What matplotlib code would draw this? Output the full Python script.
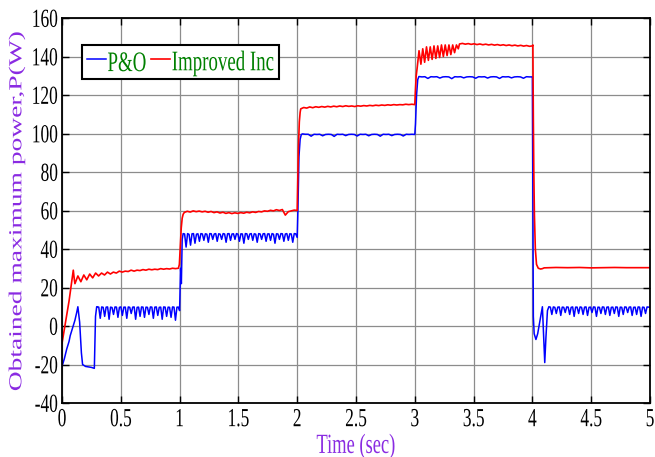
import numpy as np
import matplotlib
matplotlib.use('Agg')
import matplotlib.pyplot as plt
from matplotlib.patheffects import AbstractPathEffect
from matplotlib.transforms import Affine2D
from matplotlib.path import Path

# P&O (blue) - transients as (t, P) pairs, plateaus as value runs between start/end times
po_t0 = [0.0, 0.02, 0.04, 0.06, 0.07, 0.09, 0.11, 0.125, 0.135, 0.15, 0.165, 0.175, 0.2, 0.25, 0.275, 0.285, 0.295]
po_p0 = [-21, -17, -12, -8, -5, -1, 3, 7, 10, 2, -14, -20, -21, -21.5, -22, 5, 10]
po_p1 = [10, 9.8, 4, 9.9, 9.7, 5, 9.8, 9.9, 3.5, 9.8, 9.6, 6, 9.9, 9.8, 4.5, 9.7, 9.9, 5.5,
         9.8, 9.8, 4, 9.9, 9.7, 6.5, 9.8, 9.9, 3.5, 9.7, 9.8, 5, 9.9, 9.8, 4.5, 9.8, 9.7, 6,
         9.9, 9.8, 4, 9.8, 9.9, 5.5, 9.7, 9.8, 3.5, 9.9, 9.8, 5, 9.8, 9.7, 4.5, 9.9, 9.8, 3, 9.8, 9.8]
po_t1 = [1.0, 1.008, 1.015, 1.022]
po_j1 = [8, 30, 22, 45]
po_p2 = [48, 47.8, 41, 48, 47.6, 42, 47.9, 48, 43, 47.7, 47.9, 44, 48, 47.8, 44.5, 47.9, 47.7, 43.5,
         48, 47.9, 45, 47.8, 48, 44, 47.9, 47.7, 45, 48, 47.8, 43.5, 47.9, 48, 44.5, 47.8, 47.9, 45,
         48, 47.7, 44, 47.9, 47.8, 43, 48, 47.9, 45, 47.8, 48, 44.5, 47.9, 47.7, 43.5, 48, 47.8, 45,
         47.9, 48, 44, 47.8, 47.9, 44.5, 48, 47.7, 43, 47.9, 47.8, 45, 48, 47.9, 44, 47.8, 48, 44.5,
         47.9, 47.8, 43.5, 48, 47.9, 46]
po_t2 = [2.006, 2.015, 2.025, 2.035]
po_j2 = [60, 88, 97, 99.5]
po_p3 = [99.8, 99.6, 99.6, 98.6, 99.6, 99.5, 99.6, 98.8, 99.5, 99.6, 99.5, 98.5, 99.6, 99.5, 99.6,
         98.9, 99.5, 99.6, 99.5, 98.7, 99.6, 99.5, 99.6, 98.8, 99.5, 99.6, 99.5, 98.6, 99.6, 99.5,
         99.6, 98.9, 99.5, 99.6, 99.5, 98.7, 99.6, 99.5, 99.6, 99.5]
po_t3 = [3.006, 3.015, 3.025]
po_j3 = [105, 120, 128]
po_p4 = [129.6, 129.4, 129.5, 128.6, 129.5, 129.4, 129.5, 128.8, 129.4, 129.5, 129.4, 128.5, 129.5,
         129.4, 129.5, 128.9, 129.4, 129.5, 129.4, 128.7, 129.5, 129.4, 129.5, 128.8, 129.4, 129.5,
         129.4, 128.6, 129.5, 129.4, 129.5, 128.9, 129.4, 129.5, 129.4, 128.7, 129.5, 129.4, 129.4]
po_t4 = [4.004, 4.008, 4.015, 4.03, 4.045, 4.065, 4.085, 4.095, 4.105, 4.115, 4.128]
po_j4 = [70, 5, -4, -7, -4, 3, 10, -5, -19, -6, 8]
po_p5 = [10, 9.8, 6, 9.9, 9.7, 6.5, 9.8, 9.9, 5.5, 9.8, 9.7, 7, 9.9, 9.8, 6, 9.7, 9.9, 5,
         9.8, 9.8, 6.5, 9.9, 9.7, 6, 9.8, 9.9, 5.5, 9.7, 9.8, 7, 9.9, 9.8, 5, 9.8, 9.7, 6.5,
         9.9, 9.8, 6, 9.8, 9.9, 5.5, 9.7, 9.8, 6.5, 9.9, 9.8, 5, 9.8, 9.7, 6, 9.9, 9.8, 7,
         9.8, 9.9, 5.5, 9.7, 9.8, 6, 9.9, 9.8, 5, 9.8, 9.7, 6.5, 9.9, 9.8, 9.8]
po_spans = [(0.30, 0.99), (1.03, 2.0), (2.045, 3.0), (3.035, 4.0), (4.14, 5.0)]

# Improved Inc (red)
rd_t0 = [0.0, 0.03, 0.06, 0.085, 0.096, 0.105]
rd_p0 = [-9, 2, 13, 24, 29, 24]
rd_p1 = [22, 26, 23, 26.5, 24, 27, 25, 27.5, 26, 27.5, 26.5, 28, 27, 28, 27.5, 28.5, 28, 28.5,
         28.3, 29, 28.5, 29, 28.8, 29.3, 29, 29.5, 29.2, 29.5, 29.3, 29.8, 29.5, 29.8, 29.6, 30, 29.8, 30]
rd_t1 = [0.998, 1.006, 1.014, 1.022, 1.03]
rd_j1 = [32, 42, 51, 56, 58]
rd_p2 = [59, 59.6, 59.2, 59.8, 59.4, 59.7, 59.3, 59.6, 59.1, 59.5, 58.9, 59.3, 58.7, 59.1, 58.5,
         58.9, 58.4, 58.8, 58.5, 58.9, 58.6, 59.1, 58.8, 59.3, 59, 59.5, 59.3, 59.8, 59.6, 60.1,
         59.8, 60.4, 60, 60.5, 57.6, 59.4, 59.8, 60.2, 60]
rd_t2 = [2.004, 2.01, 2.018, 2.025]
rd_j2 = [72, 92, 106, 111]
rd_p3 = [112.8, 113.5, 113.2, 113.8, 113.4, 113.9, 113.6, 114, 113.7, 114.1, 113.8, 114.2, 113.9,
         114.3, 114, 114.4, 114.1, 114.3, 114, 114.4, 114.2, 114.5, 114.3, 114.6, 114.4, 114.7,
         114.5, 114.8, 114.6, 114.9, 114.7, 115, 114.8, 115, 114.9, 115.2, 115, 115.2, 115]
rd_t3 = [3.005, 3.012]
rd_j3 = [122, 130]
rd_p4a = [134, 143, 136, 144, 137, 145, 138, 145, 138.5, 145.5, 139, 145.5, 139.5, 146, 140, 146,
          140.5, 146, 141, 146, 142, 146, 144]
rd_p4b = [146.5, 146.8, 146.4, 146.7, 146.3, 146.6, 146.2, 146.5, 146.1, 146.4, 146, 146.3, 145.9,
          146.2, 145.8, 146.1, 145.7, 146, 145.6, 145.9, 145.5, 145.8, 145.4, 145.7, 145.3, 145.5]
rd_t4 = [4.004, 4.008, 4.012, 4.017, 4.025, 4.035, 4.05, 4.07, 4.085]
rd_j4 = [146, 108, 80, 58, 40, 32, 30, 29.6, 29.8]
rd_p5 = [30.2, 30.4, 30.3, 30.4, 30.2, 30.3, 30.4, 30.3, 30.3, 30.3]
rd_spans = [(0.11, 0.99), (1.04, 2.0), (2.03, 3.0), (3.02, 3.37), (3.38, 4.0), (4.1, 5.0)]

x_ticks = [0, 0.5, 1, 1.5, 2, 2.5, 3, 3.5, 4, 4.5, 5]
y_ticks = [-40, -20, 0, 20, 40, 60, 80, 100, 120, 140, 160]


class Stretch(AbstractPathEffect):
    # the source image is squashed sideways, so glyphs are scaled about their own centre
    def __init__(self, sx=1.0, sy=1.0):
        super().__init__()
        self.sx, self.sy = sx, sy

    def draw_path(self, renderer, gc, tpath, affine, rgbFace=None):
        v = tpath.vertices
        if tpath.codes is not None:
            v = v[(tpath.codes != Path.CLOSEPOLY) & (tpath.codes != Path.STOP)]
        cx = (v[:, 0].min() + v[:, 0].max()) / 2
        cy = (v[:, 1].min() + v[:, 1].max()) / 2
        st = Affine2D().translate(-cx, -cy).scale(self.sx, self.sy).translate(cx, cy)
        renderer.draw_path(gc, tpath, st + affine, rgbFace)


# assemble P&O
po_time = np.concatenate([po_t0, np.linspace(*po_spans[0], len(po_p1)), po_t1,
                          np.linspace(*po_spans[1], len(po_p2)), po_t2,
                          np.linspace(*po_spans[2], len(po_p3)), po_t3,
                          np.linspace(*po_spans[3], len(po_p4)), po_t4,
                          np.linspace(*po_spans[4], len(po_p5))])
po_pow = np.concatenate([po_p0, po_p1, po_j1, po_p2, po_j2, po_p3, po_j3, po_p4, po_j4, po_p5])

# assemble Improved Inc
rd_time = np.concatenate([rd_t0, np.linspace(*rd_spans[0], len(rd_p1)), rd_t1,
                          np.linspace(*rd_spans[1], len(rd_p2)), rd_t2,
                          np.linspace(*rd_spans[2], len(rd_p3)), rd_t3,
                          np.linspace(*rd_spans[3], len(rd_p4a)),
                          np.linspace(*rd_spans[4], len(rd_p4b)), rd_t4,
                          np.linspace(*rd_spans[5], len(rd_p5))])
rd_pow = np.concatenate([rd_p0, rd_p1, rd_j1, rd_p2, rd_j2, rd_p3, rd_j3, rd_p4a, rd_p4b, rd_j4, rd_p5])

plt.rcParams['font.family'] = ['Liberation Serif', 'DejaVu Serif']

fig = plt.figure(figsize=(6.55, 4.57), dpi=100)
ax = fig.add_axes([62 / 655, 54 / 457, 588 / 655, 385 / 457])

ax.plot(po_time, po_pow, color='#0000ff', lw=1.1, label='P&O')
ax.plot(rd_time, rd_pow, color='#ff0000', lw=1.2, label='Improved Inc')

ax.set_xlim(0, 5)
ax.set_ylim(-40, 160)
ax.set_xticks(x_ticks)
ax.set_xticklabels([f'{v:g}' for v in x_ticks])
ax.set_yticks(y_ticks)
ax.set_yticklabels([str(v) for v in y_ticks])
ax.set_axisbelow(True)
ax.grid(True, color='#8c8c8c', lw=0.9)
ax.tick_params(direction='in', length=5, width=1, top=True, right=True, labelsize=12.5)
ax.tick_params(axis='x', pad=6)
ax.tick_params(axis='y', pad=3)
for s in ax.spines.values():
    s.set_linewidth(1.3)

purple = '#8a2be2'
ax.set_xlabel('Time (sec)', fontsize=13.3, color=purple, va='center')
ax.xaxis.set_label_coords(0.5, -0.112)
ax.set_ylabel('Obtained maximum power,P(W)', fontsize=13.2, color=purple, va='center')
ax.yaxis.set_label_coords(-0.077, 0.5)

leg = ax.legend(loc='upper left', bbox_to_anchor=(0.034, 0.93), borderaxespad=0, ncol=2,
                fontsize=13.6, handlelength=1.0, handletextpad=0.1, columnspacing=0.25,
                borderpad=0.25, handleheight=1.6, fancybox=False, framealpha=1,
                edgecolor='black')
leg.get_frame().set_linewidth(1.5)

for t in leg.get_texts():
    t.set_color('#008000')
    t.set_path_effects([Stretch(sy=1.5)])
for lbl in ax.get_xticklabels() + ax.get_yticklabels():
    lbl.set_path_effects([Stretch(sy=1.5)])
ax.xaxis.label.set_path_effects([Stretch(sy=1.5)])
ax.yaxis.label.set_path_effects([Stretch(sx=1.5)])

fig.savefig('out.png', dpi=100)
